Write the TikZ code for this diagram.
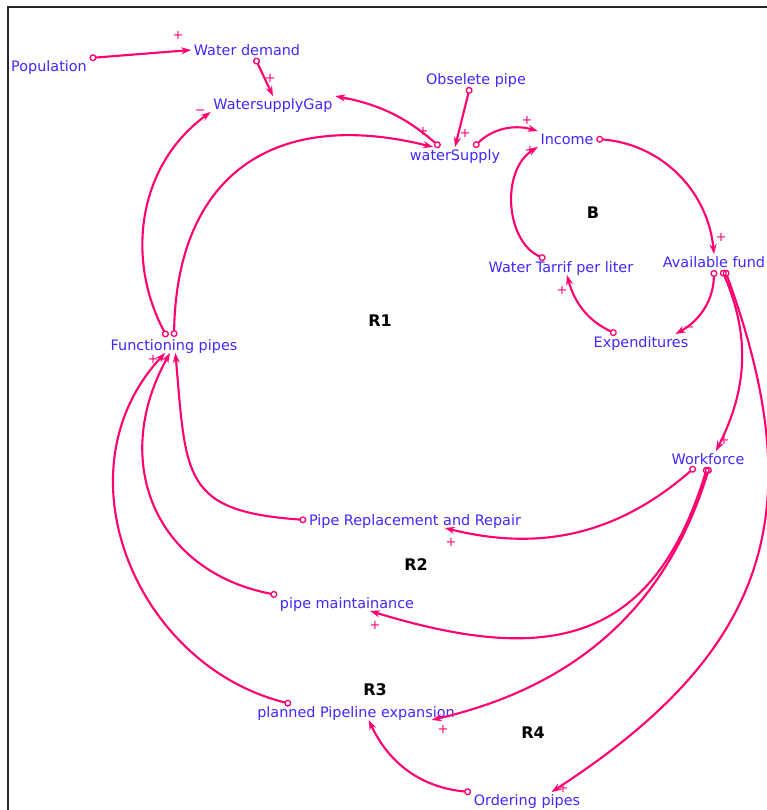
\documentclass[tikz,border=0pt]{standalone}
\usepackage{fontspec}
\setmainfont{DejaVu Sans}
\usetikzlibrary{arrows.meta}
\definecolor{varblue}{RGB}{64, 40, 255}
\definecolor{linkpink}{RGB}{255, 0, 110}

\begin{document}
\begin{tikzpicture}[x=1pt, y=1pt,
  var/.style={text=varblue, font=\fontsize{14.4}{17}\selectfont, inner sep=2.5pt, text height=10.5pt, text depth=0pt},
  loopname/.style={text=black, font=\fontsize{16}{19}\selectfont\bfseries},
  sgn/.style={text=linkpink, font=\fontsize{13}{15}\selectfont, inner sep=0pt},
  link/.style={draw=linkpink, line width=2.1pt, arrows={Circle[open,length=7pt,width=7pt,line width=1.3pt]-Stealth[length=10pt,width=7pt]}}]
  \useasboundingbox (0,0) rectangle (767,-810);

  % frame (only top and left edge are in view)
  \draw[line width=1.8pt, black!85] (8,-810) -- (8,-7) -- (767,-7);

  % variables
  \node[var] (pop) at (49,-66) {Population};
  \node[var] (wdem) at (247,-50) {Water demand};
  \node[var] (gap) at (273,-104) {WatersupplyGap};
  \node[var] (obs) at (476,-79) {Obselete pipe};
  \node[var] (wsup) at (455,-155) {waterSupply};
  \node[var] (inc) at (567,-139) {Income};
  \node[var] (tarif) at (561,-267) {Water Tarrif per liter};
  \node[var] (fund) at (714,-262) {Available fund};
  \node[var] (expd) at (641,-342) {Expenditures};
  \node[var] (fpipe) at (174,-345) {Functioning pipes};
  \node[var] (wforce) at (708,-459) {Workforce};
  \node[var] (repair) at (415,-520) {Pipe Replacement and Repair};
  \node[var] (maint) at (347,-603) {pipe maintainance};
  \node[var] (expan) at (356,-712) {planned Pipeline expansion};
  \node[var] (order) at (527,-800) {Ordering pipes};

  % loop names
  \node[loopname] (r1) at (380,-321) {R1};
  \node[loopname] (bal) at (593,-213) {B};
  \node[loopname] (r2) at (416,-565) {R2};
  \node[loopname] (r3) at (375,-690) {R3};
  \node[loopname] (r4) at (533,-733) {R4};

  % demand side
  \draw[link] (pop.north east) -- (wdem.west);
  \draw[link] ([xshift=8pt]wdem.south) -- (gap.north);
  \draw[link] ([xshift=-6pt]obs.south) -- (wsup.north);
  \draw[link] (wsup.152) to[bend right=15] (gap.north east);

  % B loop
  \draw[link] (wsup.23) to[bend left=30] (inc.north west);
  \draw[link] (tarif.153) to[bend left=62] (inc.south west);
  \draw[link] (inc.east) to[bend left=40] (fund.north);
  \draw[link] (fund.south) to[bend left=30] (expd.13);
  \draw[link] (expd.162) to[bend left=25] (tarif.-53);

  % funds to workforce and ordering
  \draw[link] (fund.-45) to[bend left=25] (wforce.45);
  \draw[link] (fund.-36) to[out=-70, in=33, looseness=1.2] (order.18);

  % workforce to pipe activities
  \draw[link] (wforce.212) to[out=221, in=-14] (repair.-15);
  \draw[link] (wforce.-95) to[out=253, in=-17, looseness=1.3] (maint.-19);
  \draw[link] (wforce.-80) to[out=253, in=13] (expan.-6);
  \draw[link] (order.north west) to[bend left=30] (expan.-32);

  % pipe activities to functioning pipes
  \draw[link] (repair.west) to[out=176, in=-85, looseness=1.5] (fpipe.-80);
  \draw[link] (maint.north west) to[out=169, in=-119, looseness=1.2] (fpipe.-117);
  \draw[link] (expan.173) to[out=166, in=-133, looseness=1.1] (fpipe.-138);

  % R1 loop
  \draw[link] (fpipe.131) to[out=118, in=216] (gap.south west);
  \draw[link] (fpipe.north) to[out=89, in=166, looseness=1.3] (wsup.160);

  % polarities
  \node[sgn] (s1) at (178,-35) {+};
  \node[sgn] (s2) at (270,-78) {+};
  \node[sgn] (s3) at (347,-101) {−};
  \node[sgn] (s4) at (200,-112) {−};
  \node[sgn] (s5) at (423,-131) {+};
  \node[sgn] (s6) at (465,-133) {+};
  \node[sgn] (s7) at (527,-120) {+};
  \node[sgn] (s8) at (530,-150) {+};
  \node[sgn] (s9) at (721,-237) {+};
  \node[sgn] (s10) at (689,-329) {−};
  \node[sgn] (s11) at (562,-290) {+};
  \node[sgn] (s12) at (724,-440) {+};
  \node[sgn] (s13) at (563,-788) {+};
  \node[sgn] (s14) at (451,-542) {+};
  \node[sgn] (s15) at (375,-625) {+};
  \node[sgn] (s16) at (443,-729) {+};
  \node[sgn] (s17) at (153,-359) {+};
\end{tikzpicture}
\end{document}
